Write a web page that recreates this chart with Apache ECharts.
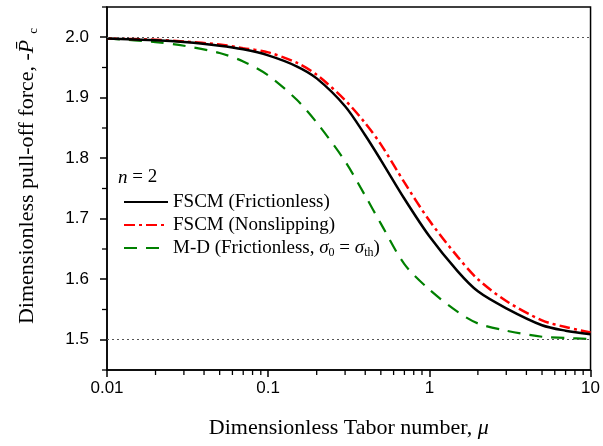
<!DOCTYPE html>
<html>
<head>
<meta charset="utf-8">
<script src="https://cdn.jsdelivr.net/npm/echarts@6/dist/echarts.min.js"></script>
<style>
html,body{margin:0;padding:0;background:#fff;}
#c{width:603px;height:446px;}
</style>
</head>
<body>
<div id="c"></div>
<script>
// Tabor number (x)
var muValues = [0.01, 0.02, 0.03, 0.05, 0.07, 0.1, 0.15, 0.2, 0.3, 0.4, 0.5, 0.7, 1, 1.5, 2, 3, 5, 7, 10];
// Series values (dimensionless pull-off force)
var fscmFrictionless = [1.998,1.995,1.992,1.986,1.980,1.970,1.952,1.932,1.886,1.838,1.797,1.733,1.671,1.613,1.580,1.552,1.524,1.515,1.509];
var fscmNonslipping  = [1.998,1.996,1.993,1.988,1.982,1.975,1.958,1.938,1.896,1.858,1.823,1.760,1.697,1.637,1.600,1.564,1.532,1.521,1.512];
var mdFrictionless   = [1.998,1.992,1.986,1.974,1.960,1.937,1.897,1.859,1.795,1.738,1.692,1.625,1.583,1.546,1.527,1.515,1.505,1.503,1.501];
// Reference (dotted) levels
var refLevels = [2.0, 1.5];
// Axis ranges and tick values
var xRange = [0.01, 10];
var yRange = [1.45, 2.05];
var xMajorTicks = [0.01, 0.1, 1, 10];
var xMinorTicks = [0.02,0.03,0.04,0.05,0.06,0.07,0.08,0.09,0.2,0.3,0.4,0.5,0.6,0.7,0.8,0.9,2,3,4,5,6,7,8,9];
var yMajorTicks = [1.5, 1.6, 1.7, 1.8, 1.9, 2.0];
var yMinorTicks = [1.45, 1.55, 1.65, 1.75, 1.85, 1.95, 2.05];
var seriesNames = ['FSCM (Frictionless)', 'FSCM (Nonslipping)', 'M-D (Frictionless, \u03c30 = \u03c3th)'];

function pairs(xs, ys){ return xs.map(function(x,i){ return [x, ys[i]]; }); }

var chart = echarts.init(document.getElementById('c'), null, {renderer:'canvas'});
var serif = '"Liberation Serif","DejaVu Serif",serif';
var sans = '"Liberation Sans",Arial,sans-serif';

var textGraphics = [
  {type:'text', left:118, top:168, style:{text:'{i|n}{t| = 2}', rich:{i:{fontFamily:serif, fontStyle:'italic', fontSize:19, fill:'#000'}, t:{fontFamily:serif, fontSize:19, fill:'#000'}}}},
  {type:'text', x:27, y:176, rotation:Math.PI/2,
    style:{text:'{t|Dimensionless pull-off force, -}{p|P\u0304}{s|c}', align:'center', verticalAlign:'middle',
      rich:{t:{fontFamily:serif, fontSize:22, fill:'#000', lineHeight:26},
            p:{fontFamily:serif, fontSize:22, fontStyle:'italic', fill:'#000', lineHeight:26},
            s:{fontFamily:serif, fontSize:13, fill:'#000', lineHeight:13, verticalAlign:'bottom', padding:[0,0,0,6]}}}}
];

var option = {
  animation: false,
  grid: {left:107, right:10, top:7, bottom:76, show:true, borderColor:'#000', borderWidth:1.5, backgroundColor:'transparent'},
  xAxis: {
    type:'log', logBase:10, min:xRange[0], max:xRange[1],
    name:'Dimensionless Tabor number, {i|\u03bc}',
    nameLocation:'middle', nameGap:47,
    nameTextStyle:{fontFamily:serif, fontSize:22, color:'#000', rich:{i:{fontFamily:serif, fontStyle:'italic', fontSize:22, color:'#000'}}},
    axisLine:{show:true, onZero:false, lineStyle:{color:'#000', width:1.5}},
    axisTick:{show:true, inside:false, length:7, lineStyle:{color:'#000', width:1.5}, customValues:xMajorTicks},
    axisLabel:{show:true, margin:10, fontFamily:sans, fontSize:17, color:'#000', customValues:xMajorTicks, formatter:function(v){return String(v);}},
    splitLine:{show:false}, minorTick:{show:false}
  },
  yAxis: {
    type:'value', min:yRange[0], max:yRange[1],
    axisLine:{show:true, onZero:false, lineStyle:{color:'#000', width:1.5}},
    axisTick:{show:true, inside:false, length:7, lineStyle:{color:'#000', width:1.5}, customValues:yMajorTicks},
    axisLabel:{show:true, margin:18, fontFamily:sans, fontSize:17, color:'#000', customValues:yMajorTicks, formatter:function(v){return v.toFixed(1);}},
    splitLine:{show:false}
  },
  legend: {
    orient:'vertical', left:118, top:186, itemWidth:44, itemHeight:14, itemGap:1,
    itemStyle:{opacity:0, borderWidth:0},
    data: seriesNames,
    textStyle:{fontFamily:serif, fontSize:19, color:'#000', lineHeight:22,
      rich:{
        t:{fontFamily:serif, fontSize:19, color:'#000', lineHeight:22},
        i:{fontFamily:serif, fontSize:19, fontStyle:'italic', color:'#000', lineHeight:22},
        s:{fontFamily:serif, fontSize:12, color:'#000', lineHeight:12, verticalAlign:'bottom'}
      }},
    formatter:function(name){
      if (name === seriesNames[2]) return '{t|M-D (Frictionless, }{i|\u03c3}{s|0}{t| = }{i|\u03c3}{s|th}{t|)}';
      return '{t|' + name + '}';
    }
  },
  graphic: textGraphics,
  series: [
    {name:seriesNames[0], type:'line', data:pairs(muValues, fscmFrictionless), smooth:0.3, showSymbol:false, symbol:'none',
      lineStyle:{color:'#000', width:2.5, type:'solid'}, itemStyle:{color:'#000'}, z:4,
      markLine:{silent:true, symbol:'none', label:{show:false}, animation:false,
        lineStyle:{color:'#555', width:1, type:[2,3]},
        data: refLevels.map(function(v){return {yAxis:v};})}},
    {name:seriesNames[1], type:'line', data:pairs(muValues, fscmNonslipping), smooth:0.3, showSymbol:false, symbol:'none',
      lineStyle:{color:'#ff0000', width:2.5, type:[11,4,3,4]}, itemStyle:{color:'#ff0000'}, z:3},
    {name:seriesNames[2], type:'line', data:pairs(muValues, mdFrictionless), smooth:0.3, showSymbol:false, symbol:'none',
      lineStyle:{color:'#008000', width:2.2, type:[13,9]}, itemStyle:{color:'#008000'}, z:2}
  ]
};
chart.setOption(option);

// Minor ticks placed through the chart's own axis scales
var finder = {xAxisIndex:0, yAxisIndex:0};
var tickGraphics = [];
xMinorTicks.forEach(function(v){
  var p = chart.convertToPixel(finder, [v, yRange[0]]);
  tickGraphics.push({type:'line', z:10, shape:{x1:p[0], y1:p[1], x2:p[0], y2:p[1]+5}, style:{stroke:'#000', lineWidth:1.3}});
});
yMinorTicks.forEach(function(v){
  var p = chart.convertToPixel(finder, [xRange[0], v]);
  tickGraphics.push({type:'line', z:10, shape:{x1:p[0], y1:p[1], x2:p[0]-5, y2:p[1]}, style:{stroke:'#000', lineWidth:1.3}});
});
chart.setOption({graphic: textGraphics.concat(tickGraphics)});
</script>
</body>
</html>
